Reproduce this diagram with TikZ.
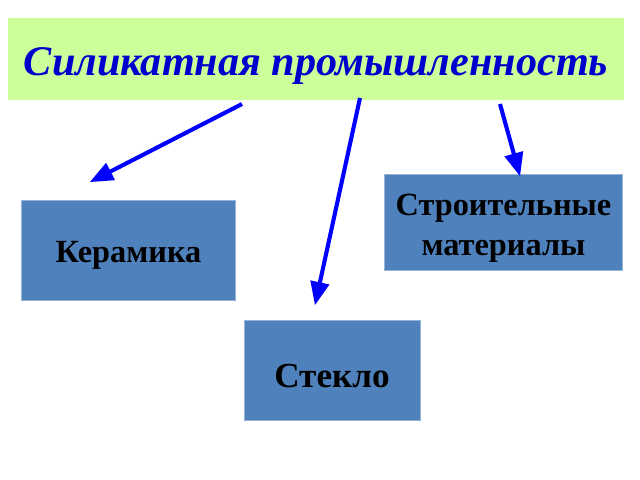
\documentclass[tikz,border=0pt]{standalone}
\usepackage{fontspec}
\setmainfont{Liberation Serif}
\usepackage{tikz}
\usetikzlibrary{arrows}
\definecolor{salad}{HTML}{CCFF99}
\definecolor{boxblue}{HTML}{4F81BD}
\definecolor{boxedge}{HTML}{95B3D7}
\definecolor{titleblue}{HTML}{0000CC}
% lower a text inside its box, keeping the box size
\newcommand{\lowertext}[2]{\raisebox{-#1}[\height][\depth]{#2}}

\begin{document}
\begin{tikzpicture}[x=0.025cm, y=-0.025cm,
  branch/.style={draw=boxedge, fill=boxblue, line width=0.6pt, inner sep=0pt,
    align=center, font=\fontsize{23}{28}\selectfont\bfseries},
  link/.style={-triangle 45, color=blue, line width=2.9pt}]
\useasboundingbox (0,0) rectangle (640,480);
%%%%% Title %%%%%
\node[fill=salad, minimum width=15.4cm, minimum height=2.05cm, inner sep=0pt,
  text=titleblue, font=\fontsize{30}{33}\selectfont\bfseries\itshape]
  (silicate) at (316,59) {\lowertext{5pt}{Силикатная промышленность}};
%%%%% Branches %%%%%
\node[branch, minimum width=5.33cm, minimum height=2.5cm] (ceramics) at (128.5,250) {\lowertext{4pt}{Керамика}};
\node[branch, minimum width=5.93cm, minimum height=2.38cm] (building) at (503.5,222.5) {\lowertext{4pt}{\parbox{5.5cm}{\centering Строительные\\материалы}}};
\node[branch, minimum width=4.4cm, minimum height=2.5cm, font=\fontsize{25}{28}\selectfont\bfseries] (glass) at (332,370) {\lowertext{4pt}{Стекло}};
%%%%% Arrows %%%%%
\coordinate (s1) at (242,104);
\coordinate (e1) at (90,182);
\coordinate (s2) at (360,98);
\coordinate (e2) at (315,305);
\coordinate (s3) at (500,104);
\coordinate (e3) at (520,176);
\draw[link] (s1)--(e1);
\draw[link] (s2)--(e2);
\draw[link] (s3)--(e3);
\end{tikzpicture}
\end{document}
